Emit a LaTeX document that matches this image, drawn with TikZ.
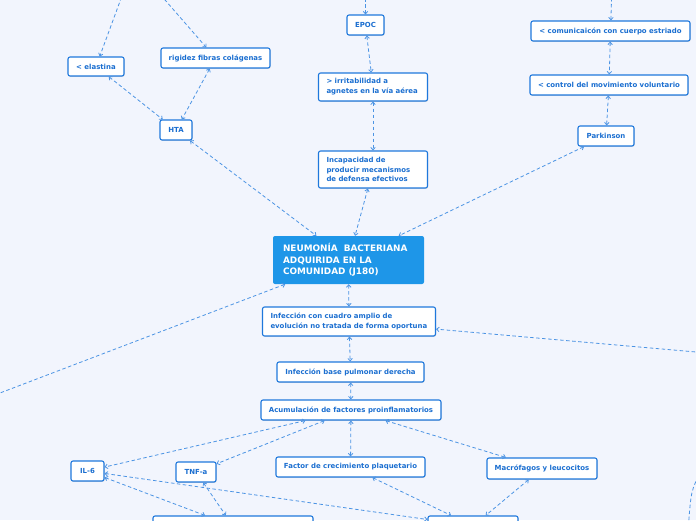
\documentclass[tikz,border=0pt]{standalone}
\usepackage{fontspec}
\setmainfont{DejaVu Sans}
\usetikzlibrary{arrows.meta,shadows}
\definecolor{bg}{HTML}{F2F5FD}
\definecolor{boxline}{HTML}{1F78DC}
\definecolor{boxtext}{HTML}{1A6ED0}
\definecolor{linkc}{HTML}{4C94E4}
\definecolor{mainfill}{HTML}{1E96E8}
\tikzset{
  box/.style={draw=boxline, fill=white, line width=1.1pt, rounded corners=2pt,
    font=\fontsize{6.95}{9.8}\selectfont\bfseries, text=boxtext,
    inner xsep=8pt, inner ysep=0pt,
    drop shadow={shadow xshift=0.6pt, shadow yshift=-0.8pt, opacity=0.25}},
  mlbox/.style={box, align=left},
  mainbox/.style={fill=mainfill, rounded corners=2pt, text=white,
    font=\fontsize{8.9}{11.6}\selectfont\bfseries, align=left, inner xsep=10pt, inner ysep=0pt},
  link/.style={draw=linkc, dash pattern=on 3.5pt off 2.5pt, line width=0.8pt,
    {Straight Barb[length=2.5pt,width=4.5pt]}-{Straight Barb[length=2.5pt,width=4.5pt]}}
}
\begin{document}
\begin{tikzpicture}[x=1pt,y=-1pt]
\fill[bg] (0,0) rectangle (696,520);
\clip (0,0) rectangle (696,520);

% off-canvas endpoints
\coordinate (offEl) at (126,-15);
\coordinate (offRi) at (152,-15);
\coordinate (offEp) at (365.5,-15);
\coordinate (offCo) at (612,-15);
\coordinate (offL) at (-21,401);
\coordinate (offR) at (720,354.1);
\coordinate (cA) at (702,470);
\coordinate (cB) at (688,532);

% nodes
\node[box, minimum width=56, minimum height=19] (elastina) at (96,66.5) {< elastina};
\node[box, minimum width=109, minimum height=20, inner xsep=4pt] (rigidez) at (215.5,58) {rigidez fibras colágenas};
\node[box, minimum width=32, minimum height=20, inner xsep=2pt] (hta) at (176,130) {HTA};
\node[box, minimum width=37, minimum height=20, inner xsep=2pt] (epoc) at (365.5,25) {EPOC};
\node[mlbox, text width=93, minimum height=28] (irrit) at (373,87) {> irritabilidad a\\agnetes en la vía aérea};
\node[mlbox, text width=93, minimum height=37] (incap) at (373,169.5) {Incapacidad de\\producir mecanismos\\de defensa efectivos};
\node[box, minimum width=159, minimum height=20, inner xsep=4pt] (comun) at (610.5,31) {< comunicaicón con cuerpo estriado};
\node[box, minimum width=158, minimum height=20, inner xsep=4pt] (control) at (609,85) {< control del movimiento voluntario};
\node[box, minimum width=56, minimum height=20, inner xsep=2pt] (park) at (606,136) {Parkinson};
\node[mainbox, text width=131, minimum height=48] (main) at (348.5,260) {NEUMONÍA\ \ BACTERIANA\\ADQUIRIDA EN LA\\COMUNIDAD (J180)};
\node[mlbox, text width=157, minimum height=29] (inf1) at (349,321.5) {Infección con cuadro amplio de\\evolución no tratada de forma oportuna};
\node[box, minimum width=147, minimum height=20, inner xsep=4pt] (inf2) at (350.5,372) {Infección base pulmonar derecha};
\node[box, minimum width=180, minimum height=20, inner xsep=4pt] (acum) at (351,410) {Acumulación de factores proinflamatorios};
\node[box, minimum width=33, minimum height=20, inner xsep=2pt] (il6) at (87.5,471) {IL-6};
\node[box, minimum width=40, minimum height=20, inner xsep=2pt] (tnf) at (196,472) {TNF-a};
\node[box, minimum width=149, minimum height=20, inner xsep=4pt] (factor) at (350.5,467) {Factor de crecimiento plaquetario};
\node[box, minimum width=110, minimum height=21, inner xsep=4pt] (macro) at (542,468.5) {Macrófagos y leucocitos};
\node[box, minimum width=160, minimum height=20] (bl) at (233,526) {};
\node[box, minimum width=90, minimum height=20] (br) at (473,526) {};

% connectors
\draw[link] (offEl) -- (elastina);
\draw[link] (offRi) -- (rigidez);
\draw[link] (elastina) -- (hta);
\draw[link] (rigidez) -- (hta);
\draw[link] (hta) -- (main);
\draw[link] (offEp) -- (epoc);
\draw[link] (epoc) -- (irrit);
\draw[link] (irrit) -- (incap);
\draw[link] (incap) -- (main);
\draw[link] (offCo) -- (comun);
\draw[link] (comun) -- (control);
\draw[link] (control) -- (park);
\draw[link] (park) -- (main);
\draw[link] (main) -- (offL);
\draw[link] (main) -- (inf1);
\draw[link] (inf1) -- (inf2);
\draw[link] (inf2) -- (acum);
\draw[link] (offR) -- (inf1);
\draw[link] (acum) -- (il6);
\draw[link] (acum) -- (tnf);
\draw[link] (acum) -- (factor);
\draw[link] (acum) -- (macro);
\draw[link] (il6) -- (br);
\draw[link] (il6) -- (bl);
\draw[link] (tnf) -- (bl);
\draw[link] (factor) -- (br);
\draw[link] (macro) -- (br);
\draw[link] (cA) .. controls (691,490) .. (cB);
\end{tikzpicture}
\end{document}
